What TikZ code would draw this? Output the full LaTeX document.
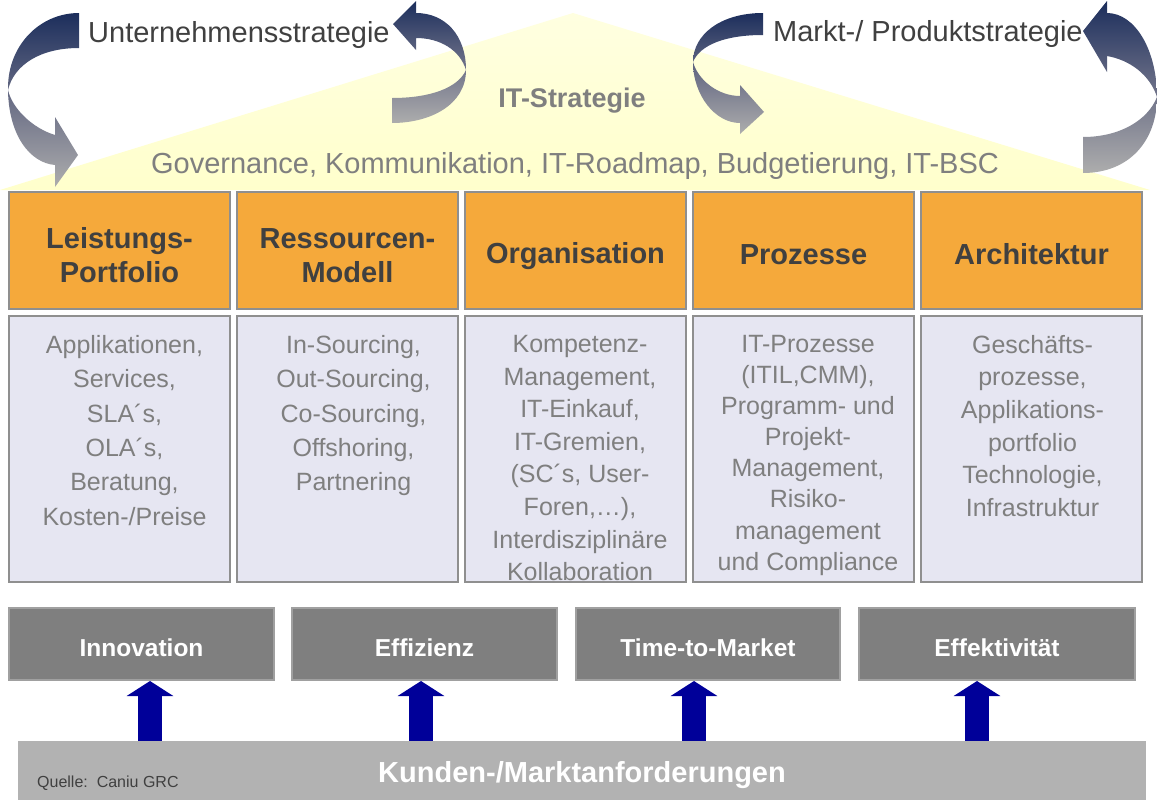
\documentclass[tikz,border=0pt]{standalone}
\usepackage{fontspec}
\setmainfont{Liberation Sans}
\usepackage{xcolor}
\usetikzlibrary{arrows.meta, positioning, calc}
\definecolor{orangebox}{HTML}{F5A93B}
\definecolor{lavender}{HTML}{E6E6F2}
\definecolor{boxborder}{HTML}{8F8F8F}
\definecolor{darktext}{HTML}{404040}
\definecolor{greytext}{HTML}{7F7F7F}
\definecolor{goalgrey}{HTML}{7F7F7F}
\definecolor{goalborder}{HTML}{A0A0A0}
\definecolor{barcolor}{HTML}{B2B2B2}
\definecolor{navyarrow}{HTML}{000099}
\definecolor{ribbontop}{HTML}{1C2E5C}
\definecolor{ribbonmid}{HTML}{6A6E86}
\definecolor{ribbonbot}{HTML}{ADADAD}
\definecolor{roofyellow}{HTML}{FFFFCC}
\tikzset{
	ribbon/.style={top color=ribbontop, bottom color=ribbonbot, middle color=ribbonmid, draw=none},
	uparrow/.style={draw=navyarrow, line width=24pt, -{Triangle[length=15pt, width=46pt]}}
}

\begin{document}
\begin{tikzpicture}[
	x=1pt, y=-1pt,
	% Styles
	head/.style = {draw=boxborder, line width=2pt, fill=orangebox, minimum width=221pt, minimum height=117pt},
	headtext/.style = {inner sep=0pt, align=center, text=darktext, font=\fontsize{29}{34}\selectfont\bfseries},
	body/.style = {draw=boxborder, line width=2pt, fill=lavender, minimum width=221pt, minimum height=266pt},
	bodytext/.style = {inner sep=0pt, align=center, anchor=north, text=greytext, font=\fontsize{25}{#1}\selectfont},
	goal/.style = {draw=goalborder, line width=2pt, fill=goalgrey, minimum width=265pt, minimum height=72pt, text height=25pt, text depth=0pt, text=white, font=\fontsize{24.5}{28}\selectfont\bfseries},
	toptext/.style = {anchor=base west, inner sep=0pt, text=darktext, font=\fontsize{29}{34}\selectfont},
	roof/.style = {anchor=base, inner sep=0pt, text=greytext, font=\fontsize{29}{34}\selectfont}
	]
	\useasboundingbox (0,0) rectangle (1157,806);
	
	% IT-Strategie roof
	\shade[top color=roofyellow!60!white, bottom color=roofyellow] (0,190) -- (573,13) -- (1150,190) -- cycle;
	
	% curved strategy arrows
	\path[ribbon] (79,13) .. controls (40,13) and (8,45) .. (8,88)
		.. controls (8,135) and (30,163) .. (55,165) -- (55,187) -- (78,155) -- (55,117) -- (55,135)
		.. controls (32,128) and (12,108) .. (8,90)
		.. controls (14,65) and (40,48) .. (79,48) -- cycle;
	\path[ribbon] (392,123) .. controls (430,123) and (466,105) .. (466,70)
		.. controls (466,35) and (445,13) .. (416,13) -- (416,1) -- (393,24) -- (416,50) -- (416,38)
		.. controls (440,38) and (460,50) .. (466,70)
		.. controls (458,88) and (430,98) .. (392,98) -- cycle;
	\path[ribbon] (763,13) .. controls (720,13) and (693,35) .. (693,62)
		.. controls (693,95) and (715,123) .. (740,123) -- (740,134) -- (764,112) -- (740,85) -- (740,96)
		.. controls (718,96) and (698,80) .. (693,62)
		.. controls (700,45) and (725,35) .. (763,35) -- cycle;
	\path[ribbon] (1083,173) .. controls (1130,173) and (1157,140) .. (1157,97)
		.. controls (1157,50) and (1135,13) .. (1107,13) -- (1107,1) -- (1083,31) -- (1107,72) -- (1107,56)
		.. controls (1130,60) and (1150,75) .. (1157,97)
		.. controls (1148,120) and (1120,137) .. (1083,137) -- cycle;
	
	% labels above the roof
	\node[toptext] (unt) at (88,42) {Unternehmensstrategie};
	\node[toptext] (markt) at (773,41) {Markt-/ Produktstrategie};
	\node[roof, font=\fontsize{27}{32}\selectfont\bfseries] (its) at (572,107) {IT-Strategie};
	\node[roof] (gov) at (575,173) {Governance, Kommunikation, IT-Roadmap, Budgetierung, IT-BSC};
	
	% columns
	\node[head] (h1) at (119.5,250.5) {};
	\node[head, right=5pt of h1] (h2) {};
	\node[head, right=5pt of h2] (h3) {};
	\node[head, right=5pt of h3] (h4) {};
	\node[head, right=5pt of h4] (h5) {};
	\node[headtext] (l1) at ([yshift=-5pt]h1.center) {Leistungs-\\Portfolio};
	\node[headtext] (l2) at ([yshift=-5pt]h2.center) {Ressourcen-\\Modell};
	\node[headtext] (l3) at ([yshift=-6pt]h3.center) {Organisation};
	\node[headtext] (l4) at ([yshift=-4pt]h4.center) {Prozesse};
	\node[headtext] (l5) at ([yshift=-4pt]h5.center) {Architektur};
	
	\foreach \i in {1,...,5}
		\node[body, below=5pt of h\i] (b\i) {};
	
	\node[bodytext=34.4pt, below=20pt of b1.north, xshift=5pt] (t1) {Applikationen,\\Services,\\SLA´s,\\OLA´s,\\Beratung,\\Kosten-/Preise};
	\node[bodytext=34.4pt, below=20pt of b2.north, xshift=6pt] (t2) {In-Sourcing,\\Out-Sourcing,\\Co-Sourcing,\\Offshoring,\\Partnering};
	\node[bodytext=32.6pt, below=20pt of b3.north, xshift=4.5pt] (t3) {Kompetenz-\\Management,\\IT-Einkauf,\\IT-Gremien,\\(SC´s, User-\\Foren,…),\\Interdisziplinäre\\Kollaboration};
	\node[bodytext=31.1pt, below=20pt of b4.north, xshift=4.5pt] (t4) {IT-Prozesse\\(ITIL,CMM),\\Programm- und\\Projekt-\\Management,\\Risiko-\\management\\und Compliance};
	\node[bodytext=32.6pt, below=20pt of b5.north, xshift=1pt] (t5) {Geschäfts-\\prozesse,\\Applikations-\\portfolio\\Technologie,\\Infrastruktur};
	
	% goals
	\node[goal] (inno) at (141.5,644) {Innovation};
	\node[goal] (eff) at (424.5,644) {Effizienz};
	\node[goal, minimum width=264pt] (ttm) at (708,644) {Time-to-Market};
	\node[goal, minimum width=276pt] (effek) at (997,644) {Effektivität};
	
	% customer / market requirements
	\node[fill=barcolor, minimum width=1128pt, minimum height=59pt, text height=23pt, text depth=0pt, text=white, font=\fontsize{29}{33}\selectfont\bfseries] (kunden) at (582,770.5) {Kunden-/Marktanforderungen};
	\node[anchor=base west, inner sep=0pt, text=darktext, font=\fontsize{16}{19}\selectfont] (quelle) at (37,787) {Quelle:~~Caniu GRC};
	
	\draw[uparrow] ([xshift=8.5pt]inno.south |- kunden.north) -- ([xshift=8.5pt]inno.south);
	\draw[uparrow] ([xshift=-3.5pt]eff.south |- kunden.north) -- ([xshift=-3.5pt]eff.south);
	\draw[uparrow] ([xshift=-14pt]ttm.south |- kunden.north) -- ([xshift=-14pt]ttm.south);
	\draw[uparrow] ([xshift=-20pt]effek.south |- kunden.north) -- ([xshift=-20pt]effek.south);
	
\end{tikzpicture}
\end{document}
